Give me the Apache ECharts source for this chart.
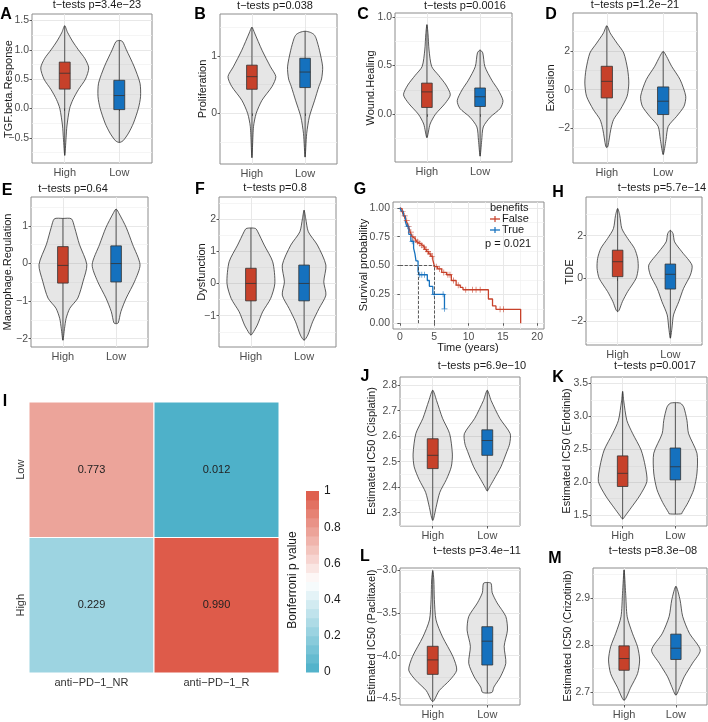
<!DOCTYPE html>
<html>
<head>
<meta charset="utf-8">
<script src="https://cdn.jsdelivr.net/npm/echarts@6.0.0/dist/echarts.min.js"></script>
<style>
html, body { margin: 0; padding: 0; background: #fff; }
#chart { width: 708px; height: 722px; }
</style>
</head>
<body>
<div id="chart"></div>
<script>
var FONT = '"Liberation Sans", Arial, sans-serif';
var RED = '#C7412A', BLUE = '#1571BE';
var groups = ['High', 'Low'];

// violin outlines: [value, half width in x units], top to bottom
// boxes: [q1, median, q3] for High, Low
// A
var tgfHighShape = [[1.41,0],[1.3,0.05],[1.15,0.14],[1.0,0.25],[0.85,0.37],[0.69,0.44],[0.5,0.38],[0.32,0.25],[0.15,0.15],[0.0,0.09],[-0.3,0.04],[-0.5,0.025],[-0.8,0]];
var tgfLowShape = [[1.16,0],[1.14,0.06],[1.0,0.13],[0.72,0.27],[0.43,0.38],[0.2,0.39],[0.0,0.35],[-0.25,0.26],[-0.42,0.17],[-0.55,0.07],[-0.58,0]];
var tgfBoxes = [[0.33,0.60,0.79],[-0.02,0.22,0.48]];
var tgfTicks = [-0.5,0,0.5,1,1.5];
// B
var profHighShape = [[1.5,0],[1.4,0.05],[1.1,0.19],[0.81,0.35],[0.64,0.45],[0.47,0.38],[0.23,0.19],[0.0,0.08],[-0.23,0.03],[-0.77,0]];
var profLowShape = [[1.43,0],[1.41,0.1],[1.37,0.17],[1.3,0.21],[1.1,0.27],[0.81,0.33],[0.6,0.31],[0.47,0.26],[0.23,0.18],[-0.06,0.08],[-0.35,0.03],[-0.76,0]];
var profBoxes = [[0.42,0.64,0.84],[0.45,0.72,0.96]];
var profTicks = [0,1];
// C
var woundHighShape = [[0.92,0],[0.83,0.02],[0.66,0.04],[0.49,0.09],[0.40,0.22],[0.30,0.36],[0.2,0.44],[0.11,0.34],[0.0,0.16],[-0.1,0.06],[-0.24,0]];
var woundLowShape = [[0.66,0],[0.63,0.05],[0.49,0.09],[0.35,0.22],[0.25,0.34],[0.14,0.43],[0.06,0.38],[-0.03,0.19],[-0.13,0.06],[-0.27,0.03],[-0.43,0]];
var woundBoxes = [[0.07,0.23,0.32],[0.08,0.18,0.27]];
var woundTicks = [0,0.5,1];
// D
var exclHighShape = [[3.31,0],[2.93,0.06],[2.41,0.18],[1.9,0.3],[1.03,0.37],[0.34,0.39],[-0.34,0.36],[-1.03,0.24],[-1.55,0.12],[-2.07,0.07],[-2.93,0.02],[-3.0,0]];
var exclLowShape = [[1.98,0],[1.72,0.06],[1.21,0.15],[0.52,0.3],[-0.34,0.4],[-0.86,0.37],[-1.38,0.24],[-1.9,0.09],[-2.59,0.05],[-3.36,0]];
var exclBoxes = [[-0.43,0.43,1.21],[-1.29,-0.6,0.14]];
var exclTicks = [-2,0,2];
// E
var macroHighShape = [[1.2,0],[1.19,0.16],[0.96,0.22],[0.51,0.31],[-0.03,0.45],[-0.47,0.38],[-0.92,0.28],[-1.19,0.13],[-1.46,0.06],[-1.73,0.03],[-2.04,0]];
var macroLowShape = [[1.45,0],[1.32,0.06],[0.96,0.19],[0.51,0.31],[-0.03,0.45],[-0.47,0.35],[-0.92,0.19],[-1.28,0.09],[-1.58,0.04],[-1.6,0]];
var macroBoxes = [[-0.52,-0.05,0.45],[-0.49,0.0,0.47]];
var macroTicks = [-2,-1,0,1];
// F
var dysfHighShape = [[1.72,0],[1.7,0.09],[1.6,0.13],[1.19,0.25],[0.67,0.41],[0,0.45],[-0.47,0.37],[-0.88,0.22],[-1.29,0.12],[-1.55,0.03],[-1.6,0]];
var dysfLowShape = [[2.27,0],[2.02,0.03],[1.6,0.08],[1.19,0.25],[0.57,0.41],[0.05,0.37],[-0.36,0.41],[-0.78,0.28],[-1.19,0.16],[-1.6,0.07],[-1.76,0]];
var dysfBoxes = [[-0.54,0,0.47],[-0.54,0,0.57]];
var dysfTicks = [-1,0,1,2];
// H
var tideHighShape = [[3.27,0],[2.95,0.04],[2.33,0.08],[1.87,0.19],[1.4,0.32],[0.93,0.38],[0.47,0.39],[0,0.35],[-0.62,0.19],[-1.09,0.09],[-1.48,0.03],[-1.56,0]];
var tideLowShape = [[2.25,0],[2.1,0.05],[1.71,0.08],[1.24,0.22],[0.62,0.41],[0.16,0.38],[-0.47,0.25],[-1.09,0.16],[-1.71,0.06],[-2.33,0.03],[-2.8,0]];
var tideBoxes = [[0.08,0.78,1.32],[-0.5,0.19,0.67]];
var tideTicks = [-2,0,2];
// J
var cisHighShape = [[2.78,0],[2.74,0.07],[2.67,0.18],[2.61,0.31],[2.53,0.36],[2.48,0.34],[2.43,0.25],[2.38,0.13],[2.32,0.06],[2.28,0.02],[2.27,0]];
var cisLowShape = [[2.78,0],[2.74,0.07],[2.67,0.23],[2.61,0.42],[2.57,0.41],[2.54,0.36],[2.48,0.25],[2.43,0.12],[2.4,0.04],[2.385,0]];
var cisBoxes = [[2.473,2.525,2.59],[2.525,2.583,2.625]];
var cisTicks = [2.3,2.4,2.5,2.6,2.7,2.8];
// K
var erlHighShape = [[3.38,0],[3.24,0.02],[2.94,0.08],[2.74,0.19],[2.49,0.35],[2.24,0.43],[2.01,0.46],[1.79,0.32],[1.61,0.16],[1.49,0.05],[1.44,0]];
var erlLowShape = [[3.21,0],[3.2,0.1],[3.14,0.16],[2.94,0.22],[2.74,0.25],[2.44,0.41],[2.14,0.41],[1.89,0.35],[1.69,0.24],[1.54,0.13],[1.52,0.12],[1.515,0]];
var erlBoxes = [[1.935,2.135,2.4],[2.035,2.235,2.52]];
var erlTicks = [1.5,2,2.5,3,3.5];
// L
var pacHighShape = [[-3.0,0],[-3.11,0.02],[-3.34,0.03],[-3.58,0.06],[-3.78,0.18],[-4.01,0.37],[-4.17,0.44],[-4.29,0.31],[-4.41,0.12],[-4.52,0.03],[-4.54,0]];
var pacLowShape = [[-3.14,0],[-3.15,0.07],[-3.26,0.09],[-3.38,0.18],[-3.54,0.34],[-3.7,0.37],[-3.89,0.31],[-4.09,0.34],[-4.25,0.24],[-4.37,0.12],[-4.43,0.09],[-4.44,0]];
var pacBoxes = [[-4.22,-4.05,-3.89],[-4.11,-3.83,-3.66]];
var pacTicks = [-4.5,-4,-3.5,-3];
// M
var crizHighShape = [[2.96,0],[2.91,0.03],[2.86,0.06],[2.825,0.16],[2.796,0.26],[2.768,0.3],[2.739,0.26],[2.71,0.13],[2.682,0]];
var crizLowShape = [[2.925,0],[2.896,0.08],[2.861,0.13],[2.825,0.26],[2.789,0.47],[2.761,0.32],[2.732,0.16],[2.711,0.08],[2.693,0]];
var crizBoxes = [[2.746,2.771,2.798],[2.769,2.793,2.823]];
var crizTicks = [2.7,2.8,2.9];

// G survival (Kaplan-Meier steps)
var falseTime = [0,0.15,0.3,0.45,0.6,0.75,0.9,1.05,1.2,1.35,1.5,1.65,1.8,2.0,2.2,2.45,2.7,3.0,3.3,3.6,3.9,4.2,4.5,4.8,5.05,5.5,6.1,6.8,7.5,8.2,8.8,9.2,12.9,13.5,14.0,17.6];
var falseSurv = [1.0,0.99,0.97,0.95,0.93,0.91,0.89,0.87,0.84,0.82,0.79,0.77,0.75,0.735,0.72,0.705,0.69,0.675,0.66,0.64,0.62,0.6,0.58,0.55,0.49,0.47,0.44,0.42,0.37,0.33,0.31,0.29,0.21,0.15,0.12,0.0];
var trueTime = [0,0.2,0.5,0.8,1.0,1.3,1.6,2.0,2.2,2.35,2.65,2.8,4.0,4.3,4.8,6.5];
var trueSurv = [1.0,0.97,0.93,0.88,0.84,0.77,0.71,0.65,0.6,0.54,0.45,0.42,0.37,0.32,0.25,0.125];
var falseCensor = [[0.4,0.97],[0.7,0.93],[1.0,0.89],[1.3,0.84],[1.6,0.79],[1.9,0.75],[2.3,0.72],[2.6,0.705],[2.9,0.69],[3.2,0.675],[3.5,0.66],[3.8,0.64],[4.1,0.62],[4.4,0.6],[4.7,0.58],[5.3,0.49],[5.8,0.47],[6.4,0.44],[7.0,0.42],[7.3,0.42],[7.8,0.37],[8.5,0.33],[9.6,0.29],[10.6,0.29],[11.1,0.29],[11.7,0.29],[14.6,0.12],[15.1,0.12]];
var trueCensor = [[1.1,0.84],[1.8,0.71],[2.9,0.42],[3.2,0.42],[3.6,0.42],[5.0,0.25],[6.3,0.25],[6.5,0.125]];
var medianTimes = [5.05, 2.65];
var survTicksX = [0,5,10,15,20];
var survTicksY = [0,0.25,0.5,0.75,1];

// I heatmap
var heatCols = ['anti\u2212PD\u22121_NR', 'anti\u2212PD\u22121_R'];
var heatRows = ['High', 'Low'];
var heatHigh = [0.229, 0.990];
var heatLow = [0.773, 0.012];

var panels = [
    {letter:'A', title:'t\u2212tests p=3.4e\u221223', name:'TGF.beta.Response', shapes:[tgfHighShape,tgfLowShape], boxes:tgfBoxes, ticks:tgfTicks, dec:1,
     rect:[32,14,120,149], range:[-0.93,1.61], titleAt:[97,5], letterAt:[6,15], nameAt:[9,89]},
    {letter:'B', title:'t\u2212tests p=0.038', name:'Proliferation', shapes:[profHighShape,profLowShape], boxes:profBoxes, ticks:profTicks, dec:0,
     rect:[220,14,117,150], range:[-0.88,1.73], titleAt:[275,6], letterAt:[200,15], nameAt:[203,89]},
    {letter:'C', title:'t\u2212tests p=0.0016', name:'Wound.Healing', shapes:[woundHighShape,woundLowShape], boxes:woundBoxes, ticks:woundTicks, dec:1,
     rect:[395,13,117,149], range:[-0.49,1.04], titleAt:[465,6], letterAt:[363,15], nameAt:[371,88]},
    {letter:'D', title:'t\u2212tests p=1.2e\u221221', name:'Exclusion', shapes:[exclHighShape,exclLowShape], boxes:exclBoxes, ticks:exclTicks, dec:0,
     rect:[573,13,124,150], range:[-3.8,3.97], titleAt:[635,5], letterAt:[551,15], nameAt:[551,88]},
    {letter:'E', title:'t\u2212tests p=0.64', name:'Macrophage.Regulation', shapes:[macroHighShape,macroLowShape], boxes:macroBoxes, ticks:macroTicks, dec:0,
     rect:[31,197,117,150], range:[-2.22,1.77], titleAt:[73,189], letterAt:[7,191], nameAt:[8,272]},
    {letter:'F', title:'t\u2212tests p=0.8', name:'Dysfunction', shapes:[dysfHighShape,dysfLowShape], boxes:dysfBoxes, ticks:dysfTicks, dec:0,
     rect:[219,197,117,150], range:[-1.97,2.68], titleAt:[275,188], letterAt:[200,190], nameAt:[202,272]},
    {letter:'H', title:'t\u2212tests p=5.7e\u221214', name:'TIDE', shapes:[tideHighShape,tideLowShape], boxes:tideBoxes, ticks:tideTicks, dec:0,
     rect:[586,197,116,148], range:[-3.12,3.81], titleAt:[662,188], letterAt:[558,193], nameAt:[570,272]},
    {letter:'J', title:'t\u2212tests p=6.9e\u221210', name:'Estimated IC50 (Cisplatin)', shapes:[cisHighShape,cisLowShape], boxes:cisBoxes, ticks:cisTicks, dec:1,
     rect:[400,377,120,149], range:[2.248,2.832], titleAt:[482,366], letterAt:[365,377], nameAt:[372,451]},
    {letter:'K', title:'t\u2212tests p=0.0017', name:'Estimated IC50 (Erlotinib)', shapes:[erlHighShape,erlLowShape], boxes:erlBoxes, ticks:erlTicks, dec:1,
     rect:[591,377,116,149], range:[1.334,3.6], titleAt:[655,366], letterAt:[558,378], nameAt:[567,451]},
    {letter:'L', title:'t\u2212tests p=3.4e\u221211', name:'Estimated IC50 (Paclitaxel)', shapes:[pacHighShape,pacLowShape], boxes:pacBoxes, ticks:pacTicks, dec:1,
     rect:[400,568,120,137], range:[-4.58,-2.97], titleAt:[477,551], letterAt:[365,557], nameAt:[372,636]},
    {letter:'M', title:'t\u2212tests p=8.3e\u221208', name:'Estimated IC50 (Crizotinib)', shapes:[crizHighShape,crizLowShape], boxes:crizBoxes, ticks:crizTicks, dec:1,
     rect:[593,568,114,137], range:[2.672,2.964], titleAt:[653,551], letterAt:[555,559], nameAt:[568,636]}
];

var option = {
    animation: false,
    backgroundColor: '#fff',
    textStyle: { fontFamily: FONT },
    grid: [], xAxis: [], yAxis: [], series: [], graphic: []
};

function fmt(dec) {
    return function (v) { return (+v).toFixed(dec).replace('-', '\u2212'); };
}

// ggplot style minor gridlines half way between the major ones
function minorOf(ticks, range) {
    var step = ticks[1] - ticks[0], out = [];
    for (var v = ticks[0] - step / 2; v < range[1]; v += step) {
        if (v > range[0]) out.push(+v.toFixed(6));
    }
    return out;
}

function text(str, x, y, o) {
    o = o || {};
    option.graphic.push({
        type: 'text', x: x, y: y, rotation: o.rot || 0, silent: true, z: 100,
        style: {
            text: str, x: 0, y: 0,
            textAlign: o.align || 'center', textVerticalAlign: 'middle', verticalAlign: 'middle',
            font: (o.bold ? 'bold ' : '') + (o.size || 11) + 'px ' + FONT,
            fill: o.color || '#1a1a1a'
        }
    });
}

function addGrid(r) {
    option.grid.push({left: r[0], top: r[1], width: r[2], height: r[3], show: true,
        borderColor: '#8c8c8c', borderWidth: 1, backgroundColor: 'transparent', outerBoundsMode: 'none'});
    return option.grid.length - 1;
}

function axisMajor(gi, min, max, ticks, formatter) {
    return {
        gridIndex: gi, type: 'value', min: min, max: max,
        axisLine: {show: false},
        axisTick: {show: true, length: 2.5, customValues: ticks, lineStyle: {color: '#333', width: 0.8}},
        axisLabel: {customValues: ticks, formatter: formatter, color: '#4d4d4d', fontSize: 10.5, fontFamily: FONT, margin: 3},
        splitLine: {show: true, lineStyle: {color: '#e8e8e8', width: 1}}
    };
}

function axisMinor(gi, min, max, values) {
    return {
        gridIndex: gi, type: 'value', min: min, max: max,
        axisLine: {show: false},
        axisTick: {show: false, customValues: values},
        axisLabel: {show: false, customValues: values},
        splitLine: {show: true, lineStyle: {color: '#f1f1f1', width: 0.7}}
    };
}

function violinRender(shapes) {
    return function (params, api) {
        var i = params.dataIndex, xc = api.value(0), shape = shapes[i], n = shape.length;
        var pts = [], k;
        for (k = 0; k < n; k++) pts.push(api.coord([xc - shape[k][1], shape[k][0]]));
        for (k = n - 2; k >= 1; k--) pts.push(api.coord([xc + shape[k][1], shape[k][0]]));
        var top = api.coord([xc, shape[0][0]]), bot = api.coord([xc, shape[n - 1][0]]);
        var a = api.coord([xc - 0.1, api.value(1)]), b = api.coord([xc + 0.1, api.value(3)]);
        var md = api.coord([xc, api.value(2)]);
        return {type: 'group', children: [
            {type: 'polygon', shape: {points: pts, smooth: 0.25}, style: {fill: 'rgba(130,130,130,0.2)', stroke: '#333', lineWidth: 0.8}},
            {type: 'line', shape: {x1: top[0], y1: top[1], x2: bot[0], y2: bot[1]}, style: {stroke: '#333', lineWidth: 0.8}},
            {type: 'rect', shape: {x: a[0], y: b[1], width: b[0] - a[0], height: a[1] - b[1]}, style: {fill: i === 0 ? RED : BLUE, stroke: '#333', lineWidth: 0.8}},
            {type: 'line', shape: {x1: a[0], y1: md[1], x2: b[0], y2: md[1]}, style: {stroke: '#333', lineWidth: 0.8}}
        ]};
    };
}

function addViolinPanel(p) {
    var gi = addGrid(p.rect);
    var xi = option.xAxis.length;
    option.xAxis.push({
        gridIndex: gi, type: 'value', min: 0.4, max: 2.6,
        axisLine: {show: false},
        axisTick: {show: true, length: 2.5, customValues: [1, 2], lineStyle: {color: '#333', width: 0.8}},
        axisLabel: {customValues: [1, 2], formatter: function (v) { return groups[Math.round(v) - 1]; },
            color: '#4d4d4d', fontSize: 11, fontFamily: FONT, margin: 4},
        splitLine: {show: true, lineStyle: {color: '#e8e8e8', width: 1}}
    });
    var yi = option.yAxis.length;
    option.yAxis.push(axisMajor(gi, p.range[0], p.range[1], p.ticks, fmt(p.dec)));
    option.yAxis.push(axisMinor(gi, p.range[0], p.range[1], minorOf(p.ticks, p.range)));
    option.series.push({
        type: 'custom', xAxisIndex: xi, yAxisIndex: yi, silent: true, z: 3,
        data: p.boxes.map(function (b, i) { return [i + 1, b[0], b[1], b[2]]; }),
        encode: {x: 0, y: [1, 2, 3]},
        renderItem: violinRender(p.shapes)
    });
    text(p.title, p.titleAt[0], p.titleAt[1]);
    text(p.letter, p.letterAt[0], p.letterAt[1], {bold: true, size: 16, color: '#000'});
    text(p.name, p.nameAt[0], p.nameAt[1], {rot: Math.PI / 2});
}

function zip(a, b) { return a.map(function (v, i) { return [v, b[i]]; }); }

var PLUS = 'path://M4.4,0H5.6V4.4H10V5.6H5.6V10H4.4V5.6H0V4.4H4.4Z';

function addSurvival() {
    var gi = addGrid([393, 202, 151, 127]);
    var xi = option.xAxis.length, yi = option.yAxis.length;
    option.xAxis.push(axisMajor(gi, -1, 21, survTicksX, fmt(0)));
    option.xAxis.push(axisMinor(gi, -1, 21, minorOf(survTicksX, [-1, 21])));
    option.yAxis.push(axisMajor(gi, -0.05, 1.05, survTicksY, fmt(2)));
    option.yAxis.push(axisMinor(gi, -0.05, 1.05, minorOf(survTicksY, [-0.05, 1.05])));
    var dash = {type: 'dashed', color: '#333', width: 0.8};
    option.series.push({
        type: 'line', xAxisIndex: xi, yAxisIndex: yi, step: 'end', symbol: 'none', silent: true, z: 4,
        data: zip(falseTime, falseSurv), lineStyle: {color: RED, width: 1.3},
        markLine: {symbol: ['none', 'none'], silent: true, label: {show: false}, lineStyle: dash, data: [
            [{coord: [0, 0.5]}, {coord: [medianTimes[0], 0.5]}],
            [{coord: [medianTimes[0], 0]}, {coord: [medianTimes[0], 0.5]}],
            [{coord: [medianTimes[1], 0]}, {coord: [medianTimes[1], 0.5]}]
        ]}
    });
    option.series.push({
        type: 'line', xAxisIndex: xi, yAxisIndex: yi, step: 'end', symbol: 'none', silent: true, z: 4,
        data: zip(trueTime, trueSurv), lineStyle: {color: BLUE, width: 1.3}
    });
    option.series.push({type: 'scatter', xAxisIndex: xi, yAxisIndex: yi, silent: true, z: 5,
        symbol: PLUS, symbolSize: 6, data: falseCensor, itemStyle: {color: RED}});
    option.series.push({type: 'scatter', xAxisIndex: xi, yAxisIndex: yi, silent: true, z: 5,
        symbol: PLUS, symbolSize: 6, data: trueCensor, itemStyle: {color: BLUE}});

    text('G', 360, 190, {bold: true, size: 16, color: '#000'});
    text('Survival probability', 364, 265, {rot: Math.PI / 2});
    text('Time (years)', 468, 348);
    text('benefits', 490, 208, {align: 'left'});
    [[RED, 'False', 219], [BLUE, 'True', 230]].forEach(function (it) {
        option.graphic.push({type: 'line', silent: true, z: 100, shape: {x1: 490, y1: it[2], x2: 500, y2: it[2]}, style: {stroke: it[0], lineWidth: 1.3}});
        option.graphic.push({type: 'line', silent: true, z: 100, shape: {x1: 495, y1: it[2] - 3, x2: 495, y2: it[2] + 3}, style: {stroke: it[0], lineWidth: 1.2}});
        text(it[1], 502, it[2], {align: 'left'});
    });
    text('p = 0.021', 485, 244, {align: 'left'});
}

var TEAL = [74, 175, 200], WHITE = [255, 255, 255], HOT = [221, 88, 70];
function mix(a, b, t) {
    return 'rgb(' + [0, 1, 2].map(function (k) { return Math.round(a[k] + (b[k] - a[k]) * t); }).join(',') + ')';
}
function colorFor(v) {
    return v < 0.5 ? mix(TEAL, WHITE, v / 0.5) : mix(WHITE, HOT, (v - 0.5) / 0.5);
}

function addHeatmap() {
    var gi = option.grid.length;
    option.grid.push({left: 29, top: 402, width: 250, height: 271, outerBoundsMode: 'none'});
    var xi = option.xAxis.length, yi = option.yAxis.length;
    option.xAxis.push({gridIndex: gi, type: 'category', data: heatCols,
        axisLine: {show: false}, axisTick: {show: false}, splitLine: {show: false},
        axisLabel: {color: '#333', fontSize: 11, fontFamily: FONT, margin: 4}});
    option.yAxis.push({gridIndex: gi, type: 'category', data: heatRows,
        axisLine: {show: false}, axisTick: {show: false}, splitLine: {show: false},
        axisLabel: {color: '#333', fontSize: 11, fontFamily: FONT, rotate: 90, margin: 3}});
    var data = [];
    heatRows.forEach(function (r, ri) {
        var vals = ri === 0 ? heatHigh : heatLow;
        heatCols.forEach(function (c, ci) { data.push([ci, ri, vals[ci]]); });
    });
    option.series.push({
        type: 'custom', xAxisIndex: xi, yAxisIndex: yi, silent: true, data: data,
        encode: {x: 0, y: 1},
        renderItem: function (params, api) {
            var c = api.coord([api.value(0), api.value(1)]), s = api.size([1, 1]), v = api.value(2);
            return {type: 'group', children: [
                {type: 'rect', shape: {x: c[0] - s[0] / 2, y: c[1] - s[1] / 2, width: s[0], height: s[1]},
                 style: {fill: colorFor(v), stroke: '#fff', lineWidth: 1}},
                {type: 'text', x: c[0], y: c[1], style: {text: v.toFixed(3), textAlign: 'center', textVerticalAlign: 'middle',
                 verticalAlign: 'middle', font: '11px ' + FONT, fill: '#222'}}
            ]};
        }
    });
    text('I', 5, 402, {bold: true, size: 16, color: '#000'});

    // colour bar
    var cg = option.grid.length;
    option.grid.push({left: 306, top: 491, width: 13, height: 181, outerBoundsMode: 'none'});
    var cx = option.xAxis.length, cy = option.yAxis.length;
    option.xAxis.push({gridIndex: cg, type: 'value', min: 0, max: 1, show: false});
    option.yAxis.push({gridIndex: cg, type: 'value', min: 0, max: 1, interval: 0.2, position: 'right',
        axisLine: {show: false}, axisTick: {show: false}, splitLine: {show: false},
        axisLabel: {color: '#1a1a1a', fontSize: 12, fontFamily: FONT, margin: 5,
            formatter: function (v) { return String(+v.toFixed(1)); }}});
    var bands = [];
    for (var k = 0; k < 20; k++) bands.push([0, k / 20, (k + 1) / 20]);
    option.series.push({
        type: 'custom', xAxisIndex: cx, yAxisIndex: cy, silent: true, data: bands,
        encode: {x: 0, y: [1, 2]},
        renderItem: function (params, api) {
            var p0 = api.coord([0, api.value(1)]), p1 = api.coord([1, api.value(2)]);
            return {type: 'rect', shape: {x: p0[0], y: p1[1], width: p1[0] - p0[0], height: p0[1] - p1[1] + 0.5},
                style: {fill: colorFor((api.value(1) + api.value(2)) / 2)}};
        }
    });
    text('Bonferroni p value', 293, 580, {rot: Math.PI / 2, size: 12});
}

panels.forEach(addViolinPanel);
addSurvival();
addHeatmap();

var chart = echarts.init(document.getElementById('chart'));
chart.setOption(option);
</script>
</body>
</html>
